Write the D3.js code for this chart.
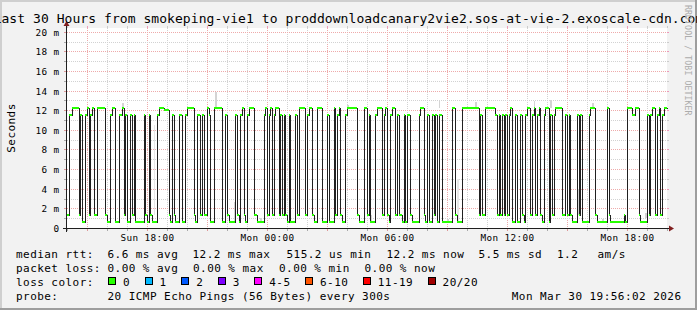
<!DOCTYPE html>
<html><head><meta charset="utf-8">
<script src="https://cdn.jsdelivr.net/npm/d3@7"></script>
<style>
html,body{margin:0;padding:0;background:#f2f2f2;overflow:hidden}
svg{display:block}
text{font-family:"DejaVu Sans Mono",monospace;fill:#000}
</style></head><body>
<svg id="chart" width="697" height="310"></svg>
<script>
// ---- data (median rtt in ms, one value per 5-minute step) ----
const rttPart1 = [
1.3,11.5,11.5,12.2,12.2,12.2,12.2,1.3,11.5,0.6,
0.6,11.5,12.2,1.3,11.5,12.2,1.3,1.3,12.2,12.2,
12.2,12.2,12.2,1.3,0.6,0.6,11.5,12.2,12.2,0.6,
0.6,11.5,11.5,12.2,1.3,11.5,0.6,0.6,11.5,1.3,
11.5,0.6,0.6,0.6,0.6,0.6,11.5,1.3,0.6,11.5,
1.3,0.6,0.6,0.6,11.5,12.2,12.2,12.2,12.0,12.0,
12.0,1.3,0.6,11.5,1.3,0.6,0.6,11.5,11.5,0.6,
0.6,11.5,12.2,12.2,12.2,12.2,1.3,0.6,11.5,11.5,
1.3,11.5,1.3,1.3,12.2,11.5,0.6,0.6,12.2,12.2];
const rttPart2 = [
12.2,12.2,12.2,0.6,0.6,11.5,1.3,0.6,0.6,0.6,
0.6,11.5,1.3,0.6,11.5,12.2,1.3,0.6,11.5,12.2,
12.2,12.2,1.3,1.3,0.6,0.6,0.6,0.6,11.5,12.2,
1.3,11.5,12.2,1.3,11.5,12.2,12.2,1.3,11.5,1.3,
11.5,1.3,0.6,11.5,0.6,0.6,0.6,11.5,1.3,12.2,
12.2,12.2,12.2,1.3,11.5,12.2,12.2,1.3,0.6,0.6,
12.2,12.2,12.2,0.6,0.6,0.6,11.5,0.6,0.6,0.6,
12.2,1.3,11.5,12.2,1.3,0.6,0.6,11.5,12.2,12.2,
12.2,12.2,12.2,12.2,1.3,0.6,0.6,0.6,12.2,12.2];
const rttPart3 = [
1.3,11.5,0.6,0.6,0.6,11.5,12.2,12.2,12.2,1.3,
11.5,12.2,1.3,0.6,11.5,12.2,12.2,1.3,11.5,1.3,
1.3,0.6,11.5,0.6,11.5,11.5,1.3,0.6,0.6,0.6,
0.6,11.5,12.2,12.2,1.3,0.6,11.5,0.6,0.6,11.5,
1.3,11.5,0.6,11.5,11.5,0.6,0.6,0.6,0.6,0.6,
0.6,12.2,12.2,1.3,0.6,0.6,0.6,12.2,12.2,12.2,
12.2,12.2,12.2,12.2,12.2,12.2,12.2,1.3,11.5,1.3,
1.3,12.2,12.2,12.2,12.2,12.2,12.2,11.5,1.3,11.5,
1.3,11.5,1.3,11.5,1.3,11.5,12.2,0.6,0.6,11.5];
const rttPart4 = [
0.6,0.6,11.5,1.3,0.6,11.5,12.2,12.2,1.3,11.5,
12.2,1.3,11.5,12.2,1.3,0.6,11.5,12.2,12.2,0.6,
11.5,1.3,11.5,12.2,12.2,12.2,12.2,1.3,1.3,11.5,
1.3,11.5,1.3,0.6,0.6,0.6,11.5,1.3,11.5,0.6,
0.6,0.6,0.6,11.5,12.2,12.2,12.2,1.3,0.6,0.6,
0.6,0.6,0.6,0.6,12.2,1.3,0.6,0.6,0.6,0.6,
0.6,0.6,0.6,0.6,1.3,0.6,12.2,12.2,12.2,11.5,
11.5,12.2,12.2,1.3,0.6,0.6,0.6,0.6,11.5,1.3,
11.5,12.2,12.2,1.3,11.5,12.2,1.3,11.5,12.2,12.2];
// occasional smoke (ping spread) per step: step index, low ms, high ms
const smokeStep = [33,52,89,100,116,168,182,223,228,234,245,280,290,306,315,321,347];
const smokeLow  = [12.2,1.3,12.2,0.6,0.6,12.2,0.6,12.2,0.6,0.6,12.2,12.2,12.2,1.3,12.2,0.6,1.0];
const smokeHigh = [12.75,10.5,13.9,2.7,1.0,12.5,1.3,13.0,0.9,5.0,12.8,12.9,13.05,4.0,12.7,0.9,1.5];
const yTicks = [0,2,4,6,8,10,12,14,16,18,20];
const lossLabels = ["0","1","2","3","4-5","6-10","11-19","20/20"];
const lossColors = ["#26ff00","#00b8ff","#0059ff","#7e00ff","#ff00ff","#ff5500","#ff0000","#a00000"];
const rttStats = ["6.6 ms avg","12.2 ms max","515.2 us min","12.2 ms now","5.5 ms sd","1.2","am/s"];
const lossStats = ["0.00 % avg","0.00 % max","0.00 % min","0.00 % now"];
const titleText = "Last 30 Hours from smokeping-vie1 to proddownloadcanary2vie2.sos-at-vie-2.exoscale-cdn.com";
const probeText = "20 ICMP Echo Pings (56 Bytes) every 300s";
const dateText = "Mon Mar 30 19:56:02 2026";

const median = rttPart1.concat(rttPart2, rttPart3, rttPart4);
const stepMs = 5*60*1000;
const t0 = Date.UTC(2026,2,29,14,0,0);
const t1 = t0 + 30*3600*1000;

const svg = d3.select("#chart");
const W = 697, H = 310;
const X0 = 67, XS = 600, Y0 = 228, YS = 200;

const x = d3.scaleUtc().domain([t0,t1]).range([X0, X0+XS]);
const y = d3.scaleLinear().domain([0,20.38]).range([Y0, Y0-YS]);
const px = t => Math.round(x(t));
const py = v => Math.round(y(v));

// background & frame
svg.append("rect").attr("width",W).attr("height",H).attr("fill","#f2f2f2");
svg.append("rect").attr("x",0).attr("y",0).attr("width",W).attr("height",2).attr("fill","#cfcfcf");
svg.append("rect").attr("x",0).attr("y",0).attr("width",2).attr("height",H).attr("fill","#cfcfcf");
svg.append("rect").attr("x",0).attr("y",H-2).attr("width",W).attr("height",2).attr("fill","#9e9e9e");
svg.append("rect").attr("x",W-2).attr("y",0).attr("width",2).attr("height",H).attr("fill","#9e9e9e");

// canvas
svg.append("rect").attr("x",X0).attr("y",Y0-YS).attr("width",XS).attr("height",YS).attr("fill","#fff");

const g = svg.append("g").attr("shape-rendering","crispEdges");
const minorCol = "#d2d2d2", majorCol = "#eeaaaa";
// vertical grid
const hours = d3.utcHour.every(1).range(t0, t1+1);
hours.forEach(h => {
  const xx = px(h) + 0.5;
  const major = new Date(h).getUTCHours() % 3 === 0;
  const col = major ? majorCol : minorCol;
  if (h > t0 && h < t1) {
    g.append("line").attr("x1",xx).attr("x2",xx).attr("y1",Y0-YS).attr("y2",Y0)
      .attr("stroke",col).attr("stroke-dasharray","1,1");
  }
  g.append("line").attr("x1",xx).attr("x2",xx).attr("y1",Y0+1).attr("y2",Y0+3).attr("stroke",major?"#d99":"#aaa");
  g.append("line").attr("x1",xx).attr("x2",xx).attr("y1",Y0-YS-2).attr("y2",Y0-YS).attr("stroke",major?"#e9b":"#ccc");
});
// horizontal grid
d3.range(1,21).forEach(v => {
  const yy = py(v) + 0.5;
  const major = v % 2 === 0;
  g.append("line").attr("x1",X0).attr("x2",X0+XS).attr("y1",yy).attr("y2",yy)
    .attr("stroke",major?majorCol:minorCol).attr("stroke-dasharray","1,1");
  g.append("line").attr("x1",X0-3).attr("x2",X0-1).attr("y1",yy).attr("y2",yy).attr("stroke",major?"#d99":"#aaa");
  g.append("line").attr("x1",X0+XS).attr("x2",X0+XS+2).attr("y1",yy).attr("y2",yy).attr("stroke",major?"#e9b":"#ccc");
});

// smoke
const smokeG = svg.append("g").attr("shape-rendering","crispEdges");
smokeStep.forEach((s,i) => {
  const xa = px(t0 + s*stepMs), xb = px(t0 + (s+1)*stepMs);
  smokeG.append("rect").attr("x",xa).attr("width",Math.max(1,xb-xa))
    .attr("y",py(smokeHigh[i])).attr("height",py(smokeLow[i])-py(smokeHigh[i]))
    .attr("fill", (smokeHigh[i]-smokeLow[i])>3 ? "#e6e6e6" : "#d4d4d4");
});

// median line
const pts = median.map((v,i)=>[t0+i*stepMs, v]);
pts.push([t0+median.length*stepMs, median[median.length-1]]);
const line = d3.line().x(d=>px(d[0])+0.5).y(d=>py(d[1])+0.5).curve(d3.curveStepAfter);
svg.append("path").attr("d",line(pts)).attr("fill","none").attr("stroke","#202020")
  .attr("stroke-width",1).attr("shape-rendering","crispEdges");

// loss colour bands
const sw = y.invert(Y0-1) - y.invert(Y0);
svg.append("g").attr("shape-rendering","crispEdges").selectAll("rect").data(median).join("rect")
  .attr("x",(d,i)=>px(t0+i*stepMs))
  .attr("width",(d,i)=>Math.max(1, px(t0+(i+1)*stepMs)-px(t0+i*stepMs)))
  .attr("y",d=>py(d+sw))
  .attr("height",d=>Math.max(2, py(d-sw)-py(d+sw)))
  .attr("fill",lossColors[0]);

// axes
const ax = svg.append("g").attr("shape-rendering","crispEdges");
ax.append("line").attr("x1",X0-4).attr("x2",X0+XS+4).attr("y1",Y0+0.5).attr("y2",Y0+0.5).attr("stroke","#1f1f1f");
ax.append("line").attr("x1",X0-0.5).attr("x2",X0-0.5).attr("y1",Y0+4).attr("y2",Y0-YS-4).attr("stroke","#1f1f1f");
svg.append("path").attr("d",`M${X0+XS+2},${Y0-2.5}L${X0+XS+2},${Y0+3.5}L${X0+XS+7},${Y0+0.5}Z`).attr("fill","#801f1f");
svg.append("path").attr("d",`M${X0-3.5},${Y0-YS-2}L${X0+2.5},${Y0-YS-2}L${X0-0.5},${Y0-YS-7}Z`).attr("fill","#801f1f");

// axis labels
const axisFont = {size:"9.33px", ls:"0.4px"};
yTicks.forEach(v => {
  svg.append("text").attr("x",59.5).attr("y",py(v)+4)
    .attr("text-anchor","end").style("font-size",axisFont.size).style("letter-spacing",axisFont.ls)
    .text(v===0 ? "0" : v+" m");
});
const fmt = d3.utcFormat("%a %H:%M");
d3.utcHour.every(6).range(t0, t1+1).forEach(h => {
  svg.append("text").attr("x",px(h)+0.5).attr("y",241)
    .attr("text-anchor","middle").style("font-size",axisFont.size).style("letter-spacing",axisFont.ls)
    .text(fmt(new Date(h)));
});

// title
svg.append("text").attr("x",348.5).attr("y",23).attr("text-anchor","middle")
  .style("font-size","13px").style("letter-spacing","0.06px").text(titleText);

// vertical unit label
svg.append("text").attr("transform",`translate(15,${Y0-YS/2}) rotate(-90)`).attr("text-anchor","middle")
  .style("font-size","11px").style("letter-spacing","0.45px").text("Seconds");

// rrdtool credit
svg.append("text").attr("transform","translate(685,5) rotate(90)").attr("text-anchor","start")
  .style("font-size","8.2px").style("letter-spacing","0.1px").style("fill","#acacac").text("RRDTOOL / TOBI OETIKER");

// legend
const lf = t => t.style("font-size","11px").style("letter-spacing","0.45px");
const rowY = [257.5, 271.5, 285.5, 299.5];
lf(svg.append("text").attr("x",16).attr("y",rowY[0]).text("median rtt:"));
[107.5,192.5,286.5,386.5,478.5,557,597.5].forEach((xx,i)=>{
  lf(svg.append("text").attr("x",xx).attr("y",rowY[0]).text(rttStats[i]));
});
lf(svg.append("text").attr("x",16).attr("y",rowY[1]).text("packet loss:"));
[107.5,193,279,364.5].forEach((xx,i)=>{
  lf(svg.append("text").attr("x",xx).attr("y",rowY[1]).text(lossStats[i]));
});
lf(svg.append("text").attr("x",16).attr("y",rowY[2]).text("loss color:"));
let cx = 108.5;
lossLabels.forEach((lab,i)=>{
  svg.append("rect").attr("x",cx).attr("y",277.5).attr("width",7).attr("height",7)
    .attr("fill",lossColors[i]).attr("stroke","#000").attr("stroke-width",1).attr("shape-rendering","crispEdges");
  lf(svg.append("text").attr("x",cx+14.5).attr("y",rowY[2]).text(lab));
  cx = cx + 14.5 + lab.length*7.07 + 15;
});
lf(svg.append("text").attr("x",16).attr("y",rowY[3]).text("probe:"));
lf(svg.append("text").attr("x",107.5).attr("y",rowY[3]).text(probeText));
lf(svg.append("text").attr("x",681.5).attr("y",rowY[3]).attr("text-anchor","end").text(dateText));
</script>
</body></html>
